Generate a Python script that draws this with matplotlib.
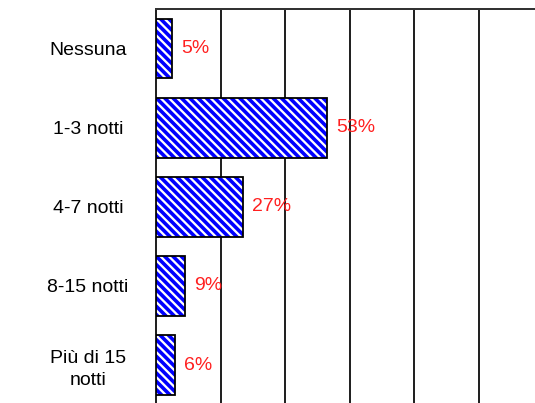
import matplotlib
matplotlib.use("Agg")
import matplotlib.pyplot as plt

categories = ["Nessuna", "1-3 notti", "4-7 notti", "8-15 notti", "Più di 15\nnotti"]
values = [5, 53, 27, 9, 6]
value_labels = ["5%", "53%", "27%", "9%", "6%"]

DPI = 100
def px(p):
    # convert pixels to points at this dpi
    return p * 72.0 / DPI

plt.rcParams['font.family'] = ['Liberation Sans', 'DejaVu Sans']
plt.rcParams['hatch.linewidth'] = px(3.6)

fig = plt.figure(figsize=(535 / DPI, 403 / DPI), dpi=DPI)
left = 156 / 535
top = 1 - 9 / 403
bottom = 1 - 404.6 / 403
ax = fig.add_axes([left, bottom, 1.0 - left, top - bottom])

pos = list(range(len(categories)))
ax.barh(pos, values, height=0.755, color='white', edgecolor='#0000ff',
        linewidth=0, hatch='\\\\\\\\', zorder=3)
ax.barh(pos, values, height=0.755, fill=False, edgecolor='black',
        linewidth=px(1.8), zorder=4)
for p, v, lab in zip(pos, values, value_labels):
    ax.annotate(lab, xy=(v, p), xytext=(px(9), 0), textcoords='offset points',
                ha='left', va='center', color='#ff2020', fontsize=px(19.5), zorder=5)

ax.set_ylim(4.5, -0.5)
ax.set_xlim(0, 117.4)
ax.set_yticks(pos)
ax.set_yticklabels(categories, fontsize=px(19.5), ha='center', linespacing=1.35)
ax.tick_params(axis='y', length=0, pad=px(68))
ax.set_xticks([20, 40, 60, 80, 100])
ax.tick_params(axis='x', length=0, labelbottom=False)
ax.grid(axis='x', color='#222222', linewidth=px(2), zorder=1)
ax.spines['right'].set_visible(False)
ax.spines['bottom'].set_visible(False)
ax.spines['top'].set_color('#333333')
ax.spines['top'].set_linewidth(px(2))
ax.spines['left'].set_color('#222222')
ax.spines['left'].set_linewidth(px(2))
ax.set_axisbelow(True)

fig.savefig("out.png", dpi=DPI)
